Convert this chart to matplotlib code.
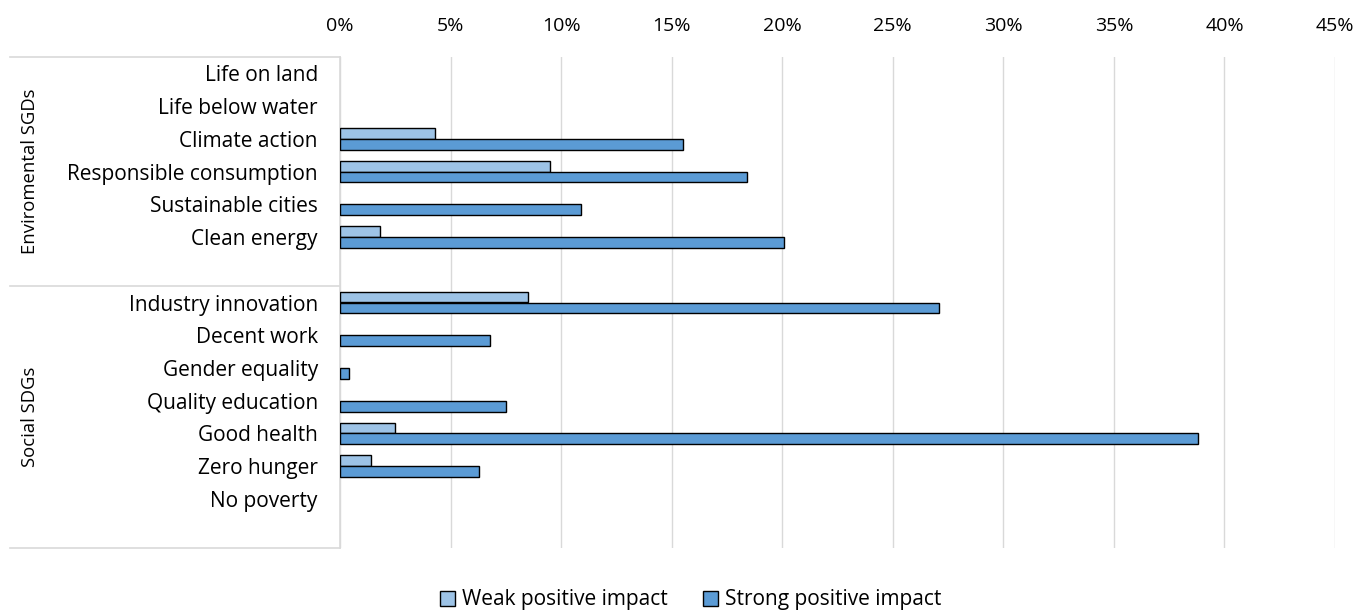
import numpy as np
import matplotlib
matplotlib.use("Agg")
import matplotlib.pyplot as plt
from matplotlib.patches import Patch

plt.rcParams['font.family'] = ['Open Sans', 'DejaVu Sans']

# categories top to bottom ('' = empty slot between groups)
categories = ['Life on land', 'Life below water', 'Climate action',
              'Responsible consumption', 'Sustainable cities', 'Clean energy', '',
              'Industry innovation', 'Decent work', 'Gender equality',
              'Quality education', 'Good health', 'Zero hunger', 'No poverty', '']
weak = [0, 0, 4.3, 9.5, 0, 1.8, 0,
        8.5, 0, 0, 0, 2.5, 1.4, 0, 0]
strong = [0, 0, 15.5, 18.4, 10.9, 20.1, 0,
          27.1, 6.8, 0.4, 7.5, 38.8, 6.3, 0, 0]
groups = ['Enviromental SGDs', 'Social SDGs']
group_slots = [(0, 7), (7, 15)]
xticks = [0, 5, 10, 15, 20, 25, 30, 35, 40, 45]

W, H = 1360, 612
fig = plt.figure(figsize=(W / 100, H / 100), dpi=100)
ax = fig.add_axes([340 / W, 1 - 548 / H, 995 / W, 491 / H])

pos = np.arange(len(categories))
weak = np.array(weak, dtype=float)
strong = np.array(strong, dtype=float)
mw = weak > 0
ms = strong > 0
ax.barh(pos[mw] - 1 / 6, weak[mw], height=1 / 3, color='#9DC3E6',
        edgecolor='black', linewidth=1.0, zorder=3)
ax.barh(pos[ms] + 1 / 6, strong[ms], height=1 / 3, color='#5B9BD5',
        edgecolor='black', linewidth=1.0, zorder=3)

ax.set_ylim(len(categories) - 0.5, -0.5)
ax.set_xlim(0, 45)
ax.set_yticks(pos)
ax.set_yticklabels(categories, fontsize=15)
ax.set_xticks(xticks)
ax.set_xticklabels([f'{t}%' for t in xticks], fontsize=14)
ax.xaxis.tick_top()
ax.tick_params(axis='x', length=0, pad=16)
ax.tick_params(axis='y', length=0, pad=16)
ax.grid(axis='x', color='#D9D9D9', linewidth=1.0, zorder=0)
for s in ['top', 'right', 'bottom']:
    ax.spines[s].set_visible(False)
ax.spines['left'].set_color('#D9D9D9')
ax.spines['left'].set_linewidth(1.2)

# category group separators and labels
tr = ax.get_yaxis_transform()
x0 = (10 - 340) / 995
for y in [-0.5, 6.5, 14.5]:
    ax.plot([x0, 0], [y, y], transform=tr, color='#D9D9D9', linewidth=1.2,
            clip_on=False)
for name, (a, b) in zip(groups, group_slots):
    ax.text((30 - 340) / 995, (a + b - 1) / 2, name, transform=tr,
            rotation=90, ha='center', va='center', fontsize=13.3)

handles = [Patch(facecolor='#9DC3E6', edgecolor='black', label='Weak positive impact'),
           Patch(facecolor='#5B9BD5', edgecolor='black', label='Strong positive impact')]
fig.legend(handles=handles, loc='center', bbox_to_anchor=(0.508, 1 - 600 / H),
           ncol=2, frameon=False, fontsize=15, handlelength=0.7,
           handleheight=0.7, handletextpad=0.35, columnspacing=1.7)

fig.savefig('out.png', dpi=100)
